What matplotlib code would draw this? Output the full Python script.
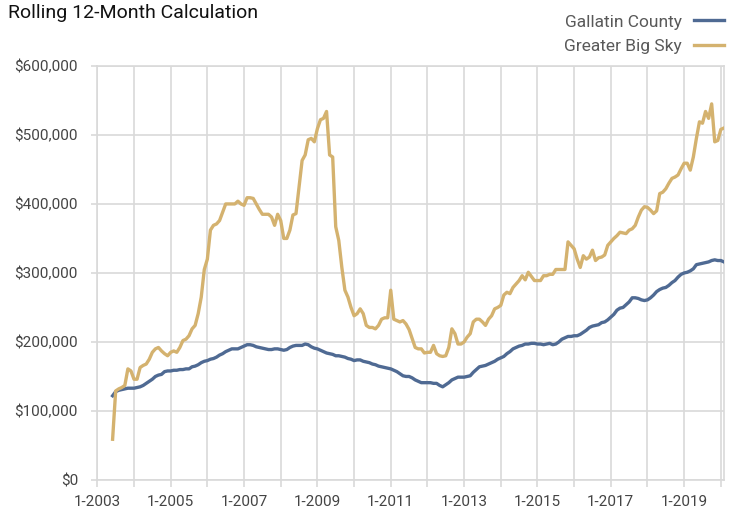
import numpy as np
import matplotlib
matplotlib.use("Agg")
import matplotlib.pyplot as plt

plt.rcParams['font.family'] = ['Roboto', 'DejaVu Sans']

# monthly values, first point = 6-2003
START_YEAR, START_MONTH = 2003, 6

gallatin = [
    122, 128, 130, 131, 132, 133, 133,                                    # 2003
    133, 134, 135, 137, 140, 143, 146, 150, 152, 153, 157, 158,           # 2004
    158, 159, 159, 160, 160, 161, 161, 164, 165, 167, 170, 172,           # 2005
    173, 175, 176, 178, 181, 183, 186, 188, 190, 190, 190, 192,           # 2006
    194, 196, 196, 195, 193, 192, 191, 190, 189, 189, 190, 190,           # 2007
    189, 188, 189, 192, 194, 195, 195, 195, 197, 196, 193, 191,           # 2008
    190, 188, 186, 184, 183, 182, 180, 180, 179, 178, 176, 175,           # 2009
    173, 174, 174, 172, 171, 170, 168, 167, 165, 164, 163, 162,           # 2010
    161, 159, 157, 154, 151, 150, 150, 148, 145, 143, 141, 141,           # 2011
    141, 141, 140, 140, 137, 135, 138, 141, 145, 147, 149, 149,           # 2012
    149, 150, 151, 156, 160, 164, 165, 166, 168, 170, 172, 175,           # 2013
    177, 179, 183, 186, 190, 192, 194, 195, 197, 197, 198, 198,           # 2014
    197, 197, 196, 197, 198, 196, 197, 200, 204, 206, 208, 208,           # 2015
    209, 209, 211, 214, 217, 221, 223, 224, 225, 228, 229, 232,           # 2016
    236, 240, 246, 249, 250, 254, 258, 264, 264, 263, 261, 260,           # 2017
    261, 264, 268, 273, 276, 278, 279, 282, 286, 289, 294, 298,           # 2018
    300, 301, 303, 306, 312, 313, 314, 315, 316, 318, 319, 318,           # 2019
    318, 316,                                                              # 2020
]

big_sky = [
    59, 129, 132, 134, 137, 161, 158,                                     # 2003
    146, 146, 163, 166, 168, 175, 185, 190, 192, 187, 183, 180,           # 2004
    185, 187, 185, 192, 202, 204, 209, 219, 224, 241, 265, 305,           # 2005
    320, 362, 369, 371, 376, 388, 400, 400, 400, 400, 404, 400,           # 2006
    398, 409, 409, 408, 400, 392, 385, 385, 385, 381, 369, 385,           # 2007
    376, 350, 350, 362, 384, 386, 425, 463, 471, 493, 495, 490,           # 2008
    509, 522, 524, 534, 471, 468, 367, 347, 308, 275, 265, 250,           # 2009
    238, 241, 248, 241, 224, 221, 221, 219, 224, 233, 235, 235,           # 2010
    275, 233, 231, 229, 231, 226, 218, 205, 192, 190, 190, 184,           # 2011
    185, 185, 195, 183, 180, 179, 180, 192, 219, 212, 197, 197,           # 2012
    200, 207, 212, 229, 233, 233, 229, 224, 233, 238, 248, 250,           # 2013
    253, 268, 272, 270, 279, 284, 289, 296, 290, 301, 295, 289,           # 2014
    289, 289, 296, 296, 298, 298, 305, 305, 305, 305, 345, 340,           # 2015
    335, 320, 308, 325, 320, 323, 333, 318, 322, 323, 326, 340,           # 2016
    345, 350, 354, 359, 358, 357, 362, 364, 369, 381, 391, 396,           # 2017
    395, 391, 386, 390, 415, 417, 422, 430, 437, 439, 442, 451,           # 2018
    459, 459, 449, 468, 495, 519, 517, 534, 524, 545, 490, 492,           # 2019
    508, 510,                                                              # 2020
]

SERIES = ["Gallatin County", "Greater Big Sky"]
COLORS = ["#4f6a93", "#d4b26f"]
GRID = "#d9d9d9"
TEXT = "#444444"

n = len(gallatin)
x = START_YEAR + (START_MONTH - 1 + np.arange(n)) / 12.0

fig = plt.figure(figsize=(7.29, 5.15), dpi=100)
ax = fig.add_axes([0.1335, 0.068, 0.8595, 0.804])

for vals, name, c in zip([gallatin, big_sky], SERIES, COLORS):
    ax.plot(x, np.array(vals) * 1000, color=c, lw=2.4, label=name,
            solid_joinstyle="round", zorder=3)

years = np.arange(2003, 2021)
ax.set_xticks(years)
ax.set_xticklabels([f"1-{y}" if y % 2 == 1 else "" for y in years])
ax.set_xlim(2003, x[-1])
ax.set_ylim(0, 600000)
ax.set_yticks(np.arange(0, 600001, 100000))
ax.set_yticklabels([f"${v:,.0f}" for v in np.arange(0, 600001, 100000)])

ax.grid(True, color=GRID, lw=1.2, zorder=0)
for sp in ax.spines.values():
    sp.set_color(GRID)
    sp.set_linewidth(1.2)
ax.tick_params(axis="x", color=GRID, width=1.2, length=5, labelsize=11,
               labelcolor=TEXT, pad=6)
ax.tick_params(axis="y", color=GRID, width=1.2, length=4, labelsize=11,
               labelcolor=TEXT, pad=10)

fig.text(0.011, 0.993, "Rolling 12-Month Calculation", fontsize=14,
         color="#111111", va="top", ha="left")

leg = fig.legend(loc="upper right", bbox_to_anchor=(0.993, 0.972),
                 frameon=False, markerfirst=False, fontsize=12.5,
                 handlelength=1.7, labelspacing=0.55, handletextpad=0.7,
                 borderaxespad=0, borderpad=0)
for t in leg.get_texts():
    t.set_color("#595959")

fig.savefig("out.png", dpi=100, facecolor="white")
